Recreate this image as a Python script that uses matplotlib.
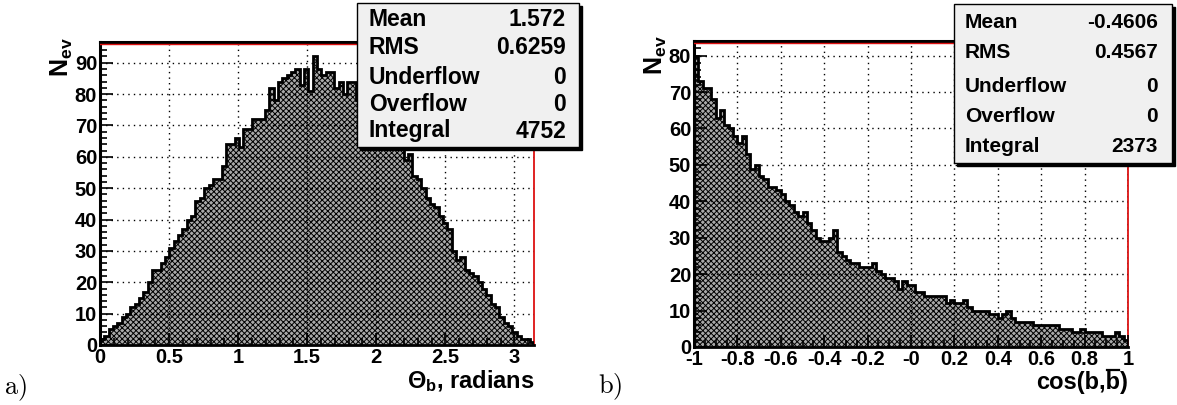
import numpy as np
import matplotlib
matplotlib.use('Agg')
import matplotlib.pyplot as plt
from matplotlib.patches import Rectangle
from matplotlib.lines import Line2D
from matplotlib.ticker import MultipleLocator, FixedLocator, FixedFormatter, FormatStrFormatter

plt.rcParams['font.family'] = ['Liberation Sans', 'DejaVu Sans']
plt.rcParams['font.weight'] = 'bold'
plt.rcParams['mathtext.fontset'] = 'custom'
plt.rcParams['mathtext.rm'] = 'Liberation Sans:bold'
plt.rcParams['mathtext.bf'] = 'Liberation Sans:bold'
plt.rcParams['mathtext.it'] = 'Liberation Sans:bold'
plt.rcParams['hatch.linewidth'] = 0.7

# theta_b distribution, 100 bins over [0, pi]
theta_counts = [2, 3, 5, 6, 7, 9, 10, 12, 13, 15,
                17, 20, 24, 24, 26, 28, 31, 33, 35, 37,
                40, 41, 46, 47, 50, 51, 53, 53, 57, 64,
                64, 66, 63, 69, 69, 72, 72, 72, 75, 82,
                78, 84, 85, 86, 87, 88, 83, 88, 81, 92,
                88, 86, 87, 87, 82, 84, 80, 84, 84, 78,
                78, 75, 74, 72, 71, 69, 68, 66, 64, 63,
                59, 61, 54, 53, 50, 47, 45, 44, 41, 39,
                37, 30, 27, 28, 24, 23, 22, 20, 18, 16,
                13, 12, 9, 7, 6, 4, 3, 2, 2, 1]
theta_range = (0.0, np.pi)

# cos(b, bbar) distribution, 100 bins over [-1, 1]
cos_counts = [80, 73, 71, 71, 68, 63, 65, 61, 60, 58,
              56, 58, 53, 49, 50, 47, 46, 44, 44, 43,
              42, 40, 39, 37, 36, 37, 34, 32, 30, 29,
              29, 30, 32, 26, 25, 24, 23, 23, 22, 22,
              22, 23, 21, 20, 19, 19, 18, 16, 18, 17,
              17, 15, 15, 14, 14, 14, 14, 14, 12, 13,
              12, 12, 13, 11, 10, 10, 10, 10, 9, 9,
              8, 9, 10, 8, 7, 7, 7, 7, 6, 6,
              6, 6, 6, 6, 5, 5, 5, 4, 4, 5,
              4, 4, 4, 4, 3, 3, 3, 4, 3, 2]
cos_range = (-1.0, 1.0)

theta_stats = [('Mean', '1.572'), ('RMS', '0.6259'), ('Underflow', '0'),
               ('Overflow', '0'), ('Integral', '4752')]
cos_stats = [('Mean', '-0.4606'), ('RMS', '0.4567'), ('Underflow', '0'),
             ('Overflow', '0'), ('Integral', '2373')]

cos_ticks = [-1, -0.8, -0.6, -0.4, -0.2, 0, 0.2, 0.4, 0.6, 0.8, 1]
cos_tick_labels = ['-1', '-0.8', '-0.6', '-0.4', '-0.2', '-0',
                   '0.2', '0.4', '0.6', '0.8', '1']

W, H = 1177, 405
fig = plt.figure(figsize=(W / 100, H / 100), dpi=100)


def px_rect(x0, y0, x1, y1):
    # pixel box (top-left origin) -> figure fraction
    return [x0 / W, 1 - y1 / H, (x1 - x0) / W, (y1 - y0) / H]


def draw_hist(ax, counts, lo, hi):
    edges = np.linspace(lo, hi, len(counts) + 1)
    ax.stairs(counts, edges, fill=True, facecolor='#a9a9a9',
              edgecolor='black', hatch='xxxxxx', linewidth=0, zorder=2)
    ax.stairs(counts, edges, color='black', linewidth=2.0, zorder=3)
    ax.set_xlim(lo, hi)
    ax.set_ylim(0, max(counts) * 1.05)
    ax.grid(True, color='black', linestyle=(0, (1, 3)), linewidth=1.0, zorder=1)
    ax.set_axisbelow(False)
    ax.yaxis.set_major_locator(MultipleLocator(10))
    ax.yaxis.set_minor_locator(MultipleLocator(2))
    ax.tick_params(which='both', direction='in', top=False, right=False,
                   labelsize=14.5, width=1.2)
    ax.tick_params(which='major', length=9)
    ax.tick_params(which='minor', length=5)
    ax.tick_params(axis='y', pad=2)
    ax.tick_params(axis='x', pad=2)
    ax.spines['left'].set_color('black')
    ax.spines['left'].set_linewidth(2.2)
    ax.spines['top'].set_color('black')
    ax.spines['top'].set_linewidth(2.2)
    ax.spines['right'].set_color('#dd1111')
    ax.spines['right'].set_linewidth(1.3)
    ax.spines['bottom'].set_color('black')
    ax.spines['bottom'].set_linewidth(2.0)


def stats_box(x0, y0, x1, y1, rows, size, row_y, name_x, value_x):
    fig.patches.append(Rectangle((x0 / W + 3 / W, 1 - y1 / H - 3 / H),
                                 (x1 - x0) / W, (y1 - y0) / H,
                                 transform=fig.transFigure, facecolor='black',
                                 edgecolor='black', zorder=5))
    fig.patches.append(Rectangle((x0 / W, 1 - y1 / H), (x1 - x0) / W, (y1 - y0) / H,
                                 transform=fig.transFigure, facecolor='#f0f0f0',
                                 edgecolor='black', linewidth=1.0, zorder=6))
    for (name, value), yy in zip(rows, row_y):
        fig.text(name_x / W, 1 - yy / H, name, fontsize=size, fontweight='bold',
                 ha='left', va='center', zorder=7)
        fig.text(value_x / W, 1 - yy / H, value, fontsize=size, fontweight='bold',
                 ha='right', va='center', zorder=7)


ax1 = fig.add_axes(px_rect(100, 42, 534, 345))
draw_hist(ax1, theta_counts, *theta_range)
ax1.xaxis.set_major_locator(MultipleLocator(0.5))
ax1.xaxis.set_minor_locator(MultipleLocator(0.1))
ax1.xaxis.set_major_formatter(FormatStrFormatter('%g'))

ax2 = fig.add_axes(px_rect(694, 41, 1128, 347))
draw_hist(ax2, cos_counts, *cos_range)
ax2.xaxis.set_major_locator(FixedLocator(cos_ticks))
ax2.xaxis.set_major_formatter(FixedFormatter(cos_tick_labels))
ax2.xaxis.set_minor_locator(MultipleLocator(0.05))

for ax in (ax1, ax2):
    # thin red frame line just under the black top border
    ax.axhline(ax.get_ylim()[1] * 0.993, color='#dd1111', linewidth=1.0, zorder=4)

# axis titles
fig.text(62 / W, 1 - 57 / H, r'N$_{\mathrm{ev}}$', fontsize=18, fontweight='bold',
         rotation=90, ha='center', va='center')
fig.text(656 / W, 1 - 55 / H, r'N$_{\mathrm{ev}}$', fontsize=18, fontweight='bold',
         rotation=90, ha='center', va='center')
fig.text(535 / W, 1 - 381 / H, r'$\Theta_{\mathrm{b}}$, radians', fontsize=17,
         fontweight='bold', ha='right', va='center')
cos_label = fig.text(1128 / W, 1 - 382 / H, 'cos(b,b)', fontsize=17,
                     fontweight='bold', ha='right', va='center')

# bar over the second b of the cos label
fig.canvas.draw()
renderer = fig.canvas.get_renderer()
full_box = cos_label.get_window_extent(renderer)
tail = fig.text(0, 0, 'b)', fontsize=17, fontweight='bold')
paren = fig.text(0, 0, ')', fontsize=17, fontweight='bold')
w_tail = tail.get_window_extent(renderer).width
w_paren = paren.get_window_extent(renderer).width
tail.remove()
paren.remove()
bx0 = full_box.x1 - w_tail + 1
bx1 = full_box.x1 - w_paren - 1
by = full_box.y1 + 1
fig.lines.append(Line2D([bx0 / W, bx1 / W], [by / H, by / H],
                        transform=fig.transFigure, color='black', linewidth=1.6))

# panel tags
fig.text(4 / W, 1 - 388 / H, r'$\mathrm{a)}$', fontsize=19, math_fontfamily='cm',
         fontweight='normal', ha='left', va='center')
fig.text(598 / W, 1 - 387 / H, r'$\mathrm{b)}$', fontsize=19, math_fontfamily='cm',
         fontweight='normal', ha='left', va='center')

stats_box(357, 3, 579, 147, theta_stats, 16.5, [20, 48, 77, 104, 131], 369, 566)
stats_box(954, 4, 1172, 163, cos_stats, 15, [22, 53, 86, 117, 147], 965, 1158)

fig.savefig('out.png', dpi=100)
